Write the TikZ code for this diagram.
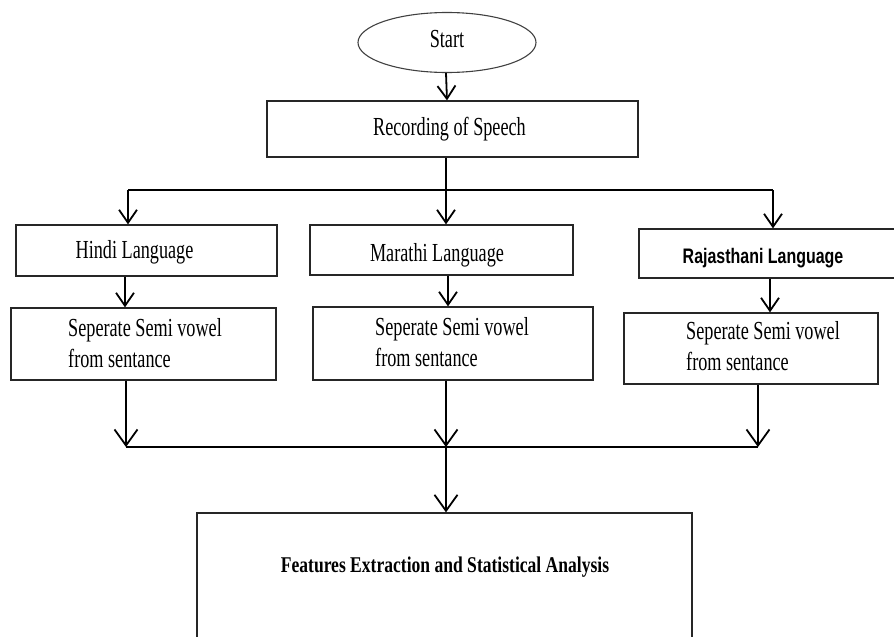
\documentclass[tikz,border=0pt]{standalone}
\usepackage{fontspec}
\setmainfont[FakeStretch=0.7]{Liberation Serif}
\newfontfamily\sansf[FakeStretch=0.76]{Liberation Sans}
\newfontfamily\featf[FakeStretch=0.78]{Liberation Serif}
\usetikzlibrary{arrows.meta,shapes.geometric}
\tikzset{
  boxn/.style={draw=black!85, line width=1.3pt, rectangle, inner sep=0pt},
  txt/.style={inner sep=0pt, font=\fontsize{26}{30.5}\selectfont},
  wire/.style={draw=black, line width=1.8pt},
  arr/.style={wire, -{Straight Barb[length=13pt,width=18pt]}},
  bigarr/.style={wire, -{Straight Barb[length=16pt,width=23pt]}}
}
\begin{document}
\begin{tikzpicture}[x=1pt,y=-1pt]
\useasboundingbox (0,0) rectangle (894,637);
\clip (0,0) rectangle (894,637);
% nodes
\node[boxn, ellipse, minimum width=178pt, minimum height=60pt, line width=1.1pt, draw=black!75] (start) at (447,42.5) {};
\node[txt] (starttxt) at (447,39.5) {Start};
\node[boxn, minimum width=371pt, minimum height=56pt] (rec) at (452.5,129) {};
\node[txt] (rectxt) at (449.5,129) {Recording of Speech};

\node[boxn, minimum width=261pt, minimum height=51pt] (hindi) at (146.5,250.5) {};
\node[txt] (hinditxt) at (134.5,252) {Hindi Language};
\node[boxn, minimum width=263pt, minimum height=50pt] (mar) at (441.5,250) {};
\node[txt] (martxt) at (437,255.5) {Marathi Language};
\node[boxn, minimum width=262pt, minimum height=49pt] (raj) at (770,253.5) {};
\node[txt, font=\sansf\fontsize{21}{24}\selectfont\bfseries] (rajtxt) at (763,258) {Rajasthani Language};

\node[boxn, minimum width=265pt, minimum height=72pt] (hsub) at (143.5,344) {};
\node[txt, anchor=west, align=left] (hsubtxt) at (68,343) {Seperate Semi vowel\\from sentance};
\node[boxn, minimum width=280pt, minimum height=73pt] (msub) at (453,343.5) {};
\node[txt, anchor=west, align=left] (msubtxt) at (375,342) {Seperate Semi vowel\\from sentance};
\node[boxn, minimum width=254pt, minimum height=71pt] (rsub) at (751,348.5) {};
\node[txt, anchor=west, align=left] (rsubtxt) at (686,346) {Seperate Semi vowel\\from sentance};

\node[boxn, minimum width=495pt, minimum height=160pt] (feat) at (444.5,593) {};
\node[txt, font=\featf\fontsize{22.5}{26}\selectfont\bfseries] (feattxt) at (445,567.5) {Features Extraction and Statistical Analysis};

% junctions
\coordinate (tl) at (128,190);
\coordinate (tm) at (446,190);
\coordinate (tr) at (773,190);
\coordinate (bl) at (126,447);
\coordinate (bm) at (446,447);
\coordinate (br) at (758,447);

% connectors
\draw[arr] (start.south -| tm) -- (start.south |- rec.north);
\draw[wire] (rec.south -| tm) -- (tm);
\draw[wire] (tl) -- (tr);
\draw[arr] (tl) -- (tl |- hindi.north);
\draw[arr] (tm) -- (tm |- mar.north);
\draw[arr] (tr) -- (tr |- raj.north);

\draw[arr] ([xshift=-21.5pt]hindi.south) -- ([xshift=-21.5pt]hindi.south |- hsub.north);
\draw[arr] ([xshift=6.5pt]mar.south) -- ([xshift=6.5pt]mar.south |- msub.north);
\draw[arr] (raj.south) -- (raj.south |- rsub.north);

\draw[bigarr] (hsub.south -| bl) -- (bl);
\draw[bigarr] (msub.south -| bm) -- (bm);
\draw[bigarr] (rsub.south -| br) -- (br);
\draw[wire] (bl) -- (br);
\draw[bigarr] (bm) -- (bm |- feat.north);
\end{tikzpicture}
\end{document}
